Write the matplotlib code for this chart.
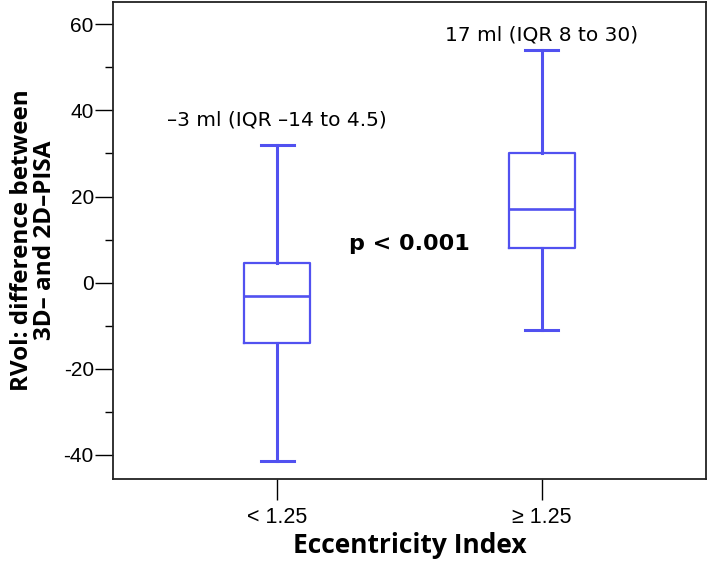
import numpy as np
from matplotlib import pyplot as plt
from matplotlib.ticker import MultipleLocator

#  ---------------------------------------  data  ---------------------------------------  #

groups = ["< 1.25", "≥ 1.25"]
whislo = [-41.5, -11]
q1 = [-14, 8]
med = [-3, 17]
q3 = [4.5, 30]
whishi = [32, 54]
notes = ["–3 ml (IQR –14 to 4.5)", "17 ml (IQR 8 to 30)"]

#  ---------------------------------------  plot  ---------------------------------------  #

plt.rcParams.update({"font.family": "DejaVu Sans", "axes.unicode_minus": False})
blue = "#5151f0"

fig = plt.figure(figsize=(7.08, 5.66), dpi=100)
ax = fig.add_axes([0.16, 0.1537, 0.837, 0.843])

stats = [dict(label=groups[i], whislo=whislo[i], q1=q1[i], med=med[i], q3=q3[i], whishi=whishi[i], fliers=[])
         for i in range(len(groups))]
ax.bxp(stats, positions=[1, 2], widths=0.25, showfliers=False,
       boxprops=dict(color=blue, lw=1.6),
       medianprops=dict(color=blue, lw=1.9),
       whiskerprops=dict(color=blue, lw=2.2),
       capprops=dict(color=blue, lw=2.2))

note_y = [37.8, 57.5]
for i, t in enumerate(notes):
    ax.text(i + 1, note_y[i], t, ha="center", va="center", fontsize=14.5)

ax.text(1.5, 9, "p < 0.001", ha="center", va="center", fontsize=16, fontweight="bold")

ax.set_xlim(0.38, 2.62)
ax.set_ylim(-45.6, 65.2)
ax.set_yticks(np.arange(-40, 61, 20))
ax.yaxis.set_minor_locator(MultipleLocator(10))
ax.set_xticks([1, 2])
ax.set_xticklabels(groups, family="Liberation Sans", fontsize=15.5)
for lab in ax.get_yticklabels():
    lab.set_family("Liberation Sans")
    lab.set_fontsize(15)

ax.tick_params(axis="y", which="major", length=13, width=1, direction="out", pad=1)
ax.tick_params(axis="y", which="minor", length=6, width=1, direction="out")
ax.tick_params(axis="x", length=15, width=1, direction="out", pad=5)
for s in ax.spines.values():
    s.set_linewidth(1.3)
    s.set_color("#222222")

ax.set_xlabel("Eccentricity Index", fontsize=19, fontweight="bold", family="Open Sans", labelpad=3)
ax.set_ylabel("RVol: difference between\n3D– and 2D–PISA", fontsize=17.5, fontweight="bold",
              family="Open Sans", labelpad=5, linespacing=0.9)

plt.savefig("out.png", dpi=100)
